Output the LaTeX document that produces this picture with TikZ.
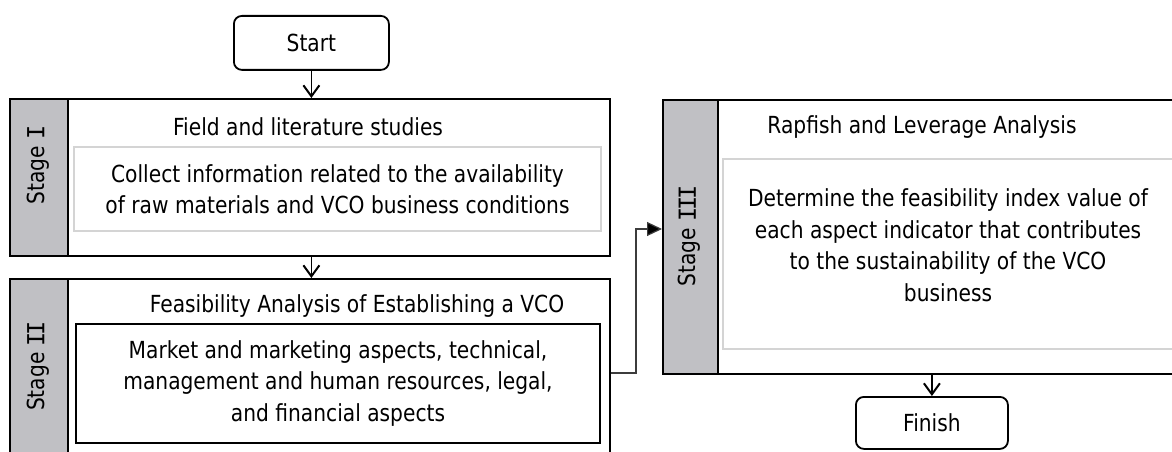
\documentclass[tikz,border=0pt]{standalone}
\usepackage{fontspec}
\setmainfont{DejaVu Sans}[FakeStretch=0.86]
\newfontfamily\romI{DejaVu Sans Mono}
\newcommand{\romnum}[1]{{\romI #1}}
\usetikzlibrary{arrows.meta}
\definecolor{sidegray}{RGB}{192,192,196}
\definecolor{innergray}{RGB}{212,212,212}
\definecolor{linkgray}{RGB}{60,60,60}
\begin{document}
\begin{tikzpicture}[x=1pt,y=-1pt,
  txt/.style={font=\fontsize{23.5}{31.5}\selectfont, align=center, inner sep=0pt},
  outerbox/.style={draw=black, line width=2pt, fill=white, anchor=north west, inner sep=0pt},
  sidebar/.style={draw=black, line width=2pt, fill=sidegray, anchor=north west, inner sep=0pt},
  lightbox/.style={draw=innergray, line width=2pt, fill=white, anchor=north west, inner sep=0pt},
  darkbox/.style={draw=black, line width=2pt, fill=white, anchor=north west, inner sep=0pt},
  termbox/.style={draw=black, line width=1.8pt, rounded corners=8pt, fill=white, anchor=north west, inner sep=0pt},
  openarrow/.style={line width=1.6pt, -{Straight Barb[length=11pt,width=16pt,line width=2pt]}},
  fillarrow/.style={line width=1.2pt, draw=linkgray, -{Triangle[length=15pt,width=14pt,fill=black]}}
]
\useasboundingbox (0,0) rectangle (1172,452);
\clip (0,0) rectangle (1172,452);

% Start
\node[termbox, minimum width=155, minimum height=54] (start) at (233,15) {};
\node[txt] (starttxt) at (start.center) {Start};

% Stage I
\node[outerbox, minimum width=600, minimum height=157] (s1) at (9,98) {};
\node[sidebar, minimum width=58, minimum height=157] (s1side) at (9,98) {};
\node[txt, rotate=90] (s1lab) at (38,165) {Stage \romnum{I}};
\node[txt] (s1title) at (308,127) {Field and literature studies};
\node[lightbox, minimum width=527, minimum height=84] (s1in) at (73,146) {};
\node[txt] (s1body) at (s1in.center) {Collect information related to the availability\\of raw materials and VCO business conditions};

% Stage II
\node[outerbox, minimum width=600, minimum height=188] (s2) at (9,278) {};
\node[sidebar, minimum width=58, minimum height=188] (s2side) at (9,278) {};
\node[txt, rotate=90] (s2lab) at (38,366) {Stage \romnum{I\kern-0.14em I}};
\node[txt] (s2title) at (357,306) {Feasibility Analysis of Establishing a VCO};
\node[darkbox, minimum width=524, minimum height=119] (s2in) at (75,323) {};
\node[txt] (s2body) at (s2in.center) {Market and marketing aspects, technical,\\management and human resources, legal,\\and financial aspects};

% Stage III
\node[outerbox, minimum width=520, minimum height=274] (s3) at (662,99) {};
\node[sidebar, minimum width=55, minimum height=274] (s3side) at (662,99) {};
\node[txt, rotate=90] (s3lab) at (689.5,236) {Stage \romnum{I\kern-0.14em I\kern-0.14em I}};
\node[txt] (s3title) at (922,127) {Rapfish and Leverage Analysis};
\node[lightbox, minimum width=453, minimum height=190] (s3in) at (722,158) {};
\node[txt] (s3body) at (948,245) {Determine the feasibility index value of\\each aspect indicator that contributes\\to the sustainability of the VCO\\business};

% Finish
\node[termbox, minimum width=152, minimum height=52] (finish) at (855,396) {};
\node[txt] (finishtxt) at (finish.center) {Finish};

% connectors
\draw[openarrow] (start.south) -- (start.south |- s1.north);
\draw[openarrow] (start.south |- s1.south) -- (start.south |- s2.north);
\draw[openarrow] (finish.north |- s3.south) -- (finish.north);
\coordinate (bend) at (636,229);
\draw[fillarrow] (s2.east) -| (bend) -- (bend -| s3.west);
\end{tikzpicture}
\end{document}
